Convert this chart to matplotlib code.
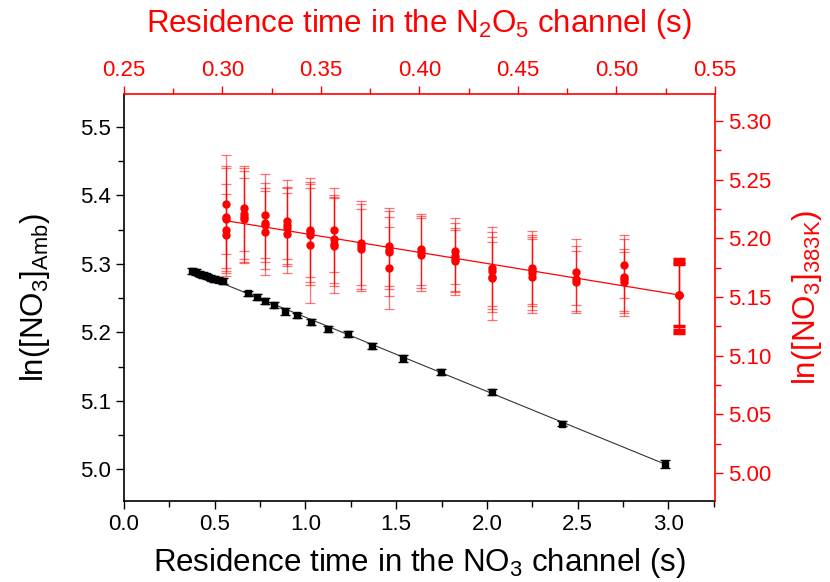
import numpy as np
import matplotlib
matplotlib.use('Agg')
from matplotlib import pyplot as plt
from matplotlib.ticker import MultipleLocator, AutoMinorLocator, FormatStrFormatter

plt.rcParams['font.family'] = ['Liberation Sans', 'DejaVu Sans']

# NO3 channel (bottom / left axes)
no3_time = [0.375, 0.395, 0.415, 0.435, 0.455, 0.475, 0.495, 0.52, 0.545,
            0.685, 0.731, 0.777, 0.827, 0.888, 0.952, 1.031, 1.126, 1.233,
            1.365, 1.536, 1.746, 2.027, 2.413, 2.979]
no3_ln = [5.290, 5.288, 5.286, 5.284, 5.282, 5.280, 5.278, 5.277, 5.275,
          5.257, 5.252, 5.246, 5.240, 5.231, 5.225, 5.215, 5.205, 5.198,
          5.180, 5.162, 5.142, 5.113, 5.067, 5.008]
no3_err = [0.004, 0.004, 0.004, 0.004, 0.004, 0.004, 0.004, 0.004, 0.004,
           0.004, 0.004, 0.004, 0.004, 0.005, 0.004, 0.004, 0.004, 0.004,
           0.004, 0.005, 0.004, 0.004, 0.004, 0.006]
no3_fit = (-0.1082, 5.3304)

# N2O5 channel (top / right axes), several points per residence time
n2o5_time = [0.3018, 0.3111, 0.3216, 0.3326, 0.3444, 0.3566, 0.3703, 0.3847,
             0.4006, 0.4180, 0.4366, 0.4570, 0.4794, 0.5038, 0.5317]
n2o5_ln = [[5.229, 5.218, 5.216, 5.207, 5.203],
           [5.226, 5.221, 5.218, 5.216],
           [5.220, 5.213, 5.211, 5.205],
           [5.215, 5.211, 5.209, 5.204],
           [5.207, 5.205, 5.203, 5.194],
           [5.207, 5.199, 5.195, 5.193],
           [5.196, 5.193, 5.191],
           [5.193, 5.190, 5.188, 5.175],
           [5.191, 5.188, 5.186],
           [5.189, 5.185, 5.182, 5.181],
           [5.175, 5.172, 5.167, 5.166],
           [5.175, 5.173, 5.170, 5.167],
           [5.171, 5.165, 5.163],
           [5.177, 5.167, 5.165, 5.163],
           [5.152, 5.152, 5.152]]
n2o5_hi = [[5.271, 5.262, 5.260, 5.246, 5.238],
           [5.262, 5.260, 5.257, 5.251],
           [5.255, 5.247, 5.243, 5.240],
           [5.250, 5.244, 5.243, 5.239],
           [5.251, 5.248, 5.246, 5.243],
           [5.243, 5.237, 5.235, 5.234],
           [5.232, 5.229, 5.225],
           [5.226, 5.223, 5.218, 5.210],
           [5.221, 5.219, 5.217],
           [5.217, 5.213, 5.209, 5.207],
           [5.210, 5.205, 5.201, 5.197],
           [5.206, 5.203, 5.201, 5.199],
           [5.199, 5.193, 5.189],
           [5.203, 5.199, 5.191, 5.188],
           [5.182, 5.180, 5.178]]
n2o5_lo = [[5.187, 5.175, 5.172, 5.170, 5.168],
           [5.189, 5.182, 5.180, 5.179],
           [5.183, 5.180, 5.174, 5.169],
           [5.182, 5.178, 5.176, 5.170],
           [5.167, 5.163, 5.160, 5.145],
           [5.171, 5.162, 5.159, 5.153],
           [5.160, 5.157, 5.155],
           [5.159, 5.157, 5.151, 5.140],
           [5.160, 5.158, 5.155],
           [5.161, 5.155, 5.154, 5.152],
           [5.142, 5.140, 5.137, 5.130],
           [5.144, 5.142, 5.139, 5.136],
           [5.143, 5.138, 5.136],
           [5.149, 5.138, 5.136, 5.134],
           [5.125, 5.122, 5.119]]
n2o5_fit = (-0.2754, 5.2981)

red = '#ff0000'

fig = plt.figure(figsize=(8.3, 5.82), dpi=100)
ax = fig.add_axes([0.1494, 0.1392, 0.712, 0.6993])
ax2 = fig.add_axes(ax.get_position())
ax2.set_facecolor('none')

# black series
xb = np.array(no3_time)
ax.errorbar(xb, no3_ln, yerr=no3_err, fmt='s', color='black', ms=5,
            elinewidth=1.0, capsize=3.5, capthick=1.0, zorder=3)
xl = np.array([xb.min(), xb.max()])
ax.plot(xl, no3_fit[0] * xl + no3_fit[1], '-', color='#333333', lw=0.8, zorder=2)

ax.set_xlim(0, 3.257)
ax.set_ylim(4.954, 5.548)
ax.xaxis.set_major_locator(MultipleLocator(0.5))
ax.xaxis.set_minor_locator(AutoMinorLocator(2))
ax.yaxis.set_major_locator(MultipleLocator(0.1))
ax.yaxis.set_minor_locator(AutoMinorLocator(2))
ax.xaxis.set_major_formatter(FormatStrFormatter('%.1f'))
ax.yaxis.set_major_formatter(FormatStrFormatter('%.1f'))
ax.tick_params(which='both', direction='out', top=False, right=False,
               labelsize=16, width=1)
ax.tick_params(which='major', length=6)
ax.tick_params(which='minor', length=4)
ax.spines['top'].set_visible(False)
ax.spines['right'].set_visible(False)
ax.spines['left'].set_linewidth(1.2)
ax.spines['bottom'].set_linewidth(1.2)
ax.set_xlabel('Residence time in the NO$_\\mathregular{3}$ channel (s)',
              fontsize=22.5, labelpad=8)
ax.set_ylabel('ln([NO$_\\mathregular{3}$]$_\\mathregular{Amb}$)',
              fontsize=22.5, labelpad=20)

# red series
xs, ys, up, dn, last = [], [], [], [], []
for i, (t, yy, hh, ll) in enumerate(zip(n2o5_time, n2o5_ln, n2o5_hi, n2o5_lo)):
    for y, h, l in zip(yy, hh, ll):
        xs.append(t)
        ys.append(y)
        up.append(h - y)
        dn.append(y - l)
        last.append(i == len(n2o5_time) - 1)
xs, ys, up, dn, last = map(np.array, (xs, ys, up, dn, last))
ax2.errorbar(xs[~last], ys[~last], yerr=[dn[~last], up[~last]], fmt='none',
             ecolor=(1, 0, 0, 0.55), elinewidth=0.9, capsize=3.5, capthick=0.9,
             zorder=2)
# last column: stacked caps look like solid blocks
ax2.errorbar(xs[last], ys[last], yerr=[dn[last], up[last]], fmt='none',
             ecolor=red, elinewidth=0.9, capsize=4, capthick=2.5, zorder=2)
ax2.plot(xs, ys, 'o', color=red, ms=5, zorder=3)
xr = np.array([min(n2o5_time), max(n2o5_time)])
ax2.plot(xr, n2o5_fit[0] * xr + n2o5_fit[1], '-', color=red, lw=0.9, zorder=2)

ax2.set_xlim(0.25, 0.55)
ax2.set_ylim(4.976, 5.323)
ax2.xaxis.tick_top()
ax2.yaxis.tick_right()
ax2.xaxis.set_label_position('top')
ax2.yaxis.set_label_position('right')
ax2.xaxis.set_major_locator(MultipleLocator(0.05))
ax2.xaxis.set_minor_locator(AutoMinorLocator(2))
ax2.yaxis.set_major_locator(MultipleLocator(0.05))
ax2.yaxis.set_minor_locator(AutoMinorLocator(2))
ax2.xaxis.set_major_formatter(FormatStrFormatter('%.2f'))
ax2.yaxis.set_major_formatter(FormatStrFormatter('%.2f'))
ax2.tick_params(which='both', direction='out', colors=red, labelsize=16,
                width=1, bottom=False, left=False)
ax2.tick_params(which='major', length=6)
ax2.tick_params(which='minor', length=4)
for side in ('top', 'right'):
    ax2.spines[side].set_color(red)
    ax2.spines[side].set_linewidth(1.2)
ax2.spines['left'].set_visible(False)
ax2.spines['bottom'].set_visible(False)
ax2.set_xlabel('Residence time in the N$_\\mathregular{2}$O$_\\mathregular{5}$ channel (s)',
               fontsize=22.5, color=red, labelpad=20)
ax2.set_ylabel('ln([NO$_\\mathregular{3}$]$_\\mathregular{383K}$)',
               fontsize=22.5, color=red, labelpad=13)

fig.savefig('out.png', dpi=100)
